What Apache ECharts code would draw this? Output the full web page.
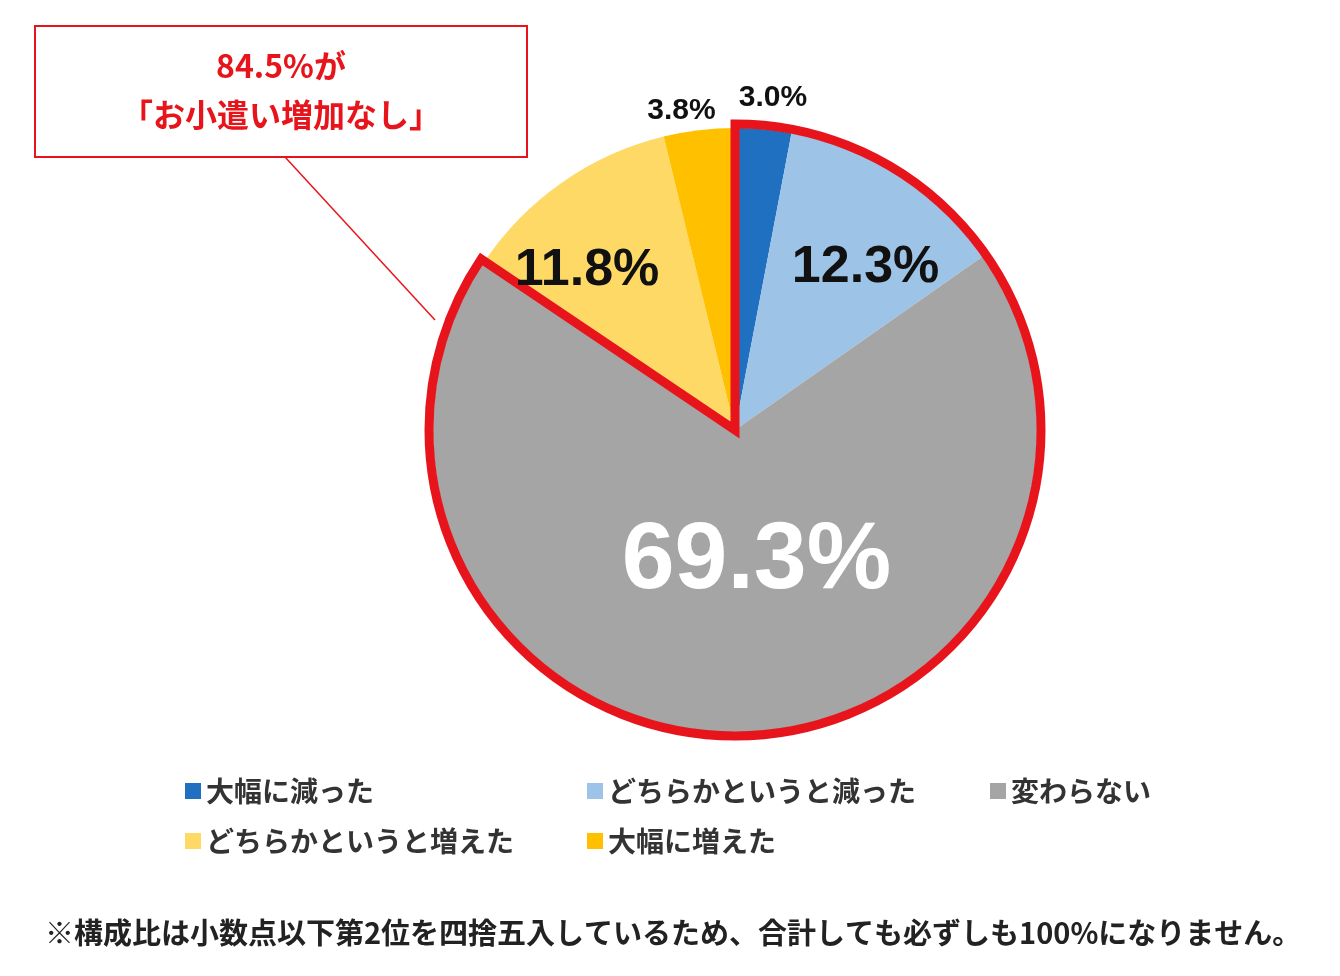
<!DOCTYPE html>
<html><head><meta charset="utf-8">
<script src="https://cdn.jsdelivr.net/npm/echarts@6/dist/echarts.min.js"></script>
<style>html,body{margin:0;background:#fff}#c{width:1340px;height:976px}</style>
</head><body><div id="c"></div>
<script>
const categories=['大幅に減った','どちらかというと減った','変わらない','どちらかというと増えた','大幅に増えた'];
const values=[3.0,12.3,69.3,11.8,3.8];
const colors=['#1f70c1','#9dc3e6','#a5a5a5','#ffd966','#ffc000'];
const outlineValues=[84.6,15.6];
const F='"Noto Sans CJK JP",sans-serif';
const chart=echarts.init(document.getElementById('c'));
const big={fontSize:52,fontWeight:'bold',color:'#111',fontFamily:'Liberation Sans'};
const small={fontSize:30,fontWeight:'bold',color:'#111',fontFamily:'Liberation Sans'};
const labelCfg=[
 {position:'outside',...small,offset:[-30,-28]},
 {position:'inside',...big,offset:[47,-33]},
 {position:'inside',fontSize:95,fontWeight:'bold',color:'#fff',fontFamily:'Liberation Sans',offset:[20,-22]},
 {position:'inside',...big,offset:[-60,-33]},
 {position:'outside',...small,offset:[22,-15]}
];
const legendStyle={orient:'vertical',itemWidth:16,itemHeight:16,itemGap:22,icon:'rect',
 textStyle:{fontSize:28,fontWeight:'bold',color:'#333',fontFamily:F}};
chart.setOption({
 animation:false,
 legend:[
  {...legendStyle,left:180,top:772,data:[categories[0],categories[3]]},
  {...legendStyle,left:582,top:772,data:[categories[1],categories[4]]},
  {...legendStyle,left:985,top:772,data:[categories[2]]}
 ],
 series:[
  {type:'pie',center:[735,430],radius:[0,302],startAngle:90,
   labelLine:{show:false,length:4,length2:0},
   label:{formatter:p=>p.value.toFixed(1)+'%'},
   data:categories.map((n,i)=>({name:n,value:values[i],itemStyle:{color:colors[i]},label:labelCfg[i]}))},
  {type:'pie',center:[735,430],radius:[0,306],startAngle:90,silent:true,label:{show:false},labelLine:{show:false},
   data:[{name:'outline',value:outlineValues[0],itemStyle:{color:'transparent',borderColor:'#e8141b',borderWidth:9,borderJoin:'miter'}},
         {name:'rest',value:outlineValues[1],itemStyle:{color:'transparent',borderWidth:0}}]}
 ],
 graphic:[
  {type:'rect',shape:{x:35,y:26,width:492,height:131},style:{fill:'#fff',stroke:'#e8141b',lineWidth:2}},
  {type:'text',x:281,y:66,style:{text:'84.5%が',fontSize:32,fontWeight:'bold',fill:'#e8141b',fontFamily:F,align:'center',verticalAlign:'middle'}},
  {type:'text',x:281,y:115,style:{text:'「お小遣い増加なし」',fontSize:32,fontWeight:'bold',fill:'#e8141b',fontFamily:F,align:'center',verticalAlign:'middle'}},
  {type:'line',shape:{x1:285,y1:157,x2:435,y2:320},style:{stroke:'#e8141b',lineWidth:1.5}},
  {type:'text',x:45,y:933,style:{text:'※構成比は小数点以下第2位を四捨五入しているため、合計しても必ずしも100%になりません。',fontSize:29,fontWeight:'bold',fill:'#222',fontFamily:F,verticalAlign:'middle'}}
 ]
});
</script></body></html>
